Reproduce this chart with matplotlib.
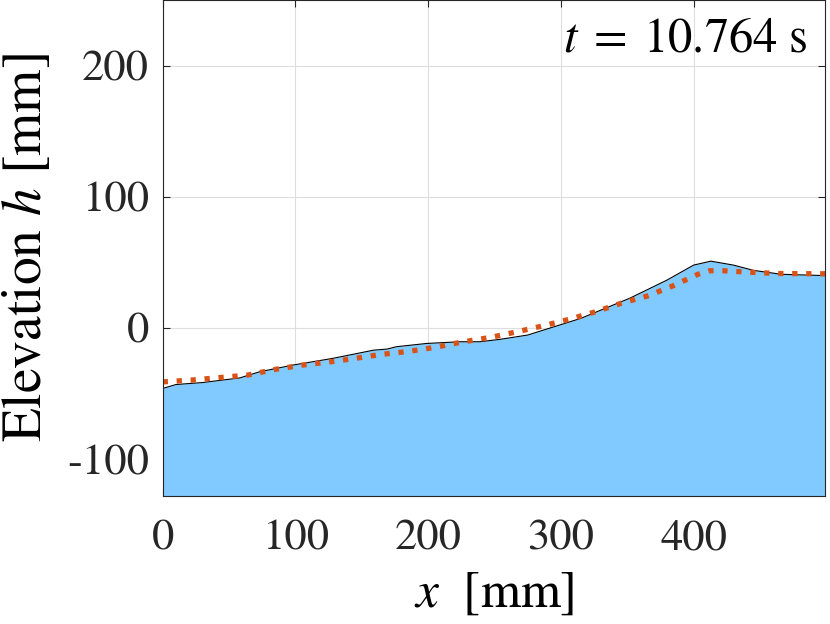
import matplotlib
matplotlib.use("Agg")
import matplotlib.pyplot as plt

plt.rcParams['font.family'] = 'STIXGeneral'
plt.rcParams['mathtext.fontset'] = 'stix'
plt.rcParams['axes.unicode_minus'] = False

# free surface (black line, blue fill)
x_surf = [0, 10, 30, 58, 73, 98, 128, 159, 169, 176, 199, 224, 239, 254, 275,
          315, 352, 380, 400, 413, 430, 445, 466, 499]
h_surf = [-46, -43, -41.5, -38, -33.3, -28.2, -23.1, -16.8, -16, -14.2, -11.7,
          -10.4, -10.4, -8.6, -5.3, 7.4, 22.8, 36.6, 48, 51, 48, 44, 41, 40]

# model (red dotted)
x_mod = [0, 23, 44, 64, 84.5, 105, 125, 145, 165, 185, 205, 225, 247, 267, 287,
         307, 326, 345, 365, 384, 403, 412, 422, 442, 463, 493, 499]
h_mod = [-41, -39.5, -37.6, -35.8, -31.5, -28.2, -25.9, -23.1, -20, -17.8,
         -14.7, -10.7, -7.1, -2.8, 1.8, 6.9, 12.4, 18.8, 24.4, 32, 40.9, 43.7,
         43.7, 42.6, 41.6, 41.4, 41.4]

t_label = r'$t\;=\;10.764\ \mathrm{s}$'
ymin, ymax = -128, 250

fig = plt.figure(figsize=(8.3, 6.24), dpi=100)
ax = fig.add_axes([0.196, 0.205, 0.798, 0.795])

ax.fill_between(x_surf, h_surf, ymin, color='#80CAFF', lw=0, zorder=1)
ax.plot(x_surf, h_surf, color='black', lw=0.8, zorder=2)
ax.plot(x_mod, h_mod, color='#D95319', lw=3.8, linestyle=':', zorder=3)

ax.set_xlim(0, 499)
ax.set_ylim(ymin, ymax)
ax.set_xticks([0, 100, 200, 300, 400])
ax.set_yticks([-100, 0, 100, 200])
ax.set_yticklabels(['-100', '0', '100', '200'])
ax.set_axisbelow(True)
ax.grid(True, color='#dedede', lw=0.8)
for s in ax.spines.values():
    s.set_color('#262626')
    s.set_linewidth(0.8)
    s.set_zorder(4)
ax.tick_params(direction='in', length=5, width=0.8, labelsize=32,
               top=True, right=True, color='#262626', labelcolor='#262626')
ax.tick_params(axis='x', pad=17)
ax.tick_params(axis='y', pad=10)

ax.set_xlabel(r'$x\ \ [\mathrm{mm}]$', fontsize=37, labelpad=9)
ax.set_ylabel(r'Elevation $h$ [mm]', fontsize=40, labelpad=10)
fig.text(0.973, 1 - 52 / 624, t_label, ha='right', va='baseline',
         fontsize=35, color='black')

fig.savefig('out.png', dpi=100)
